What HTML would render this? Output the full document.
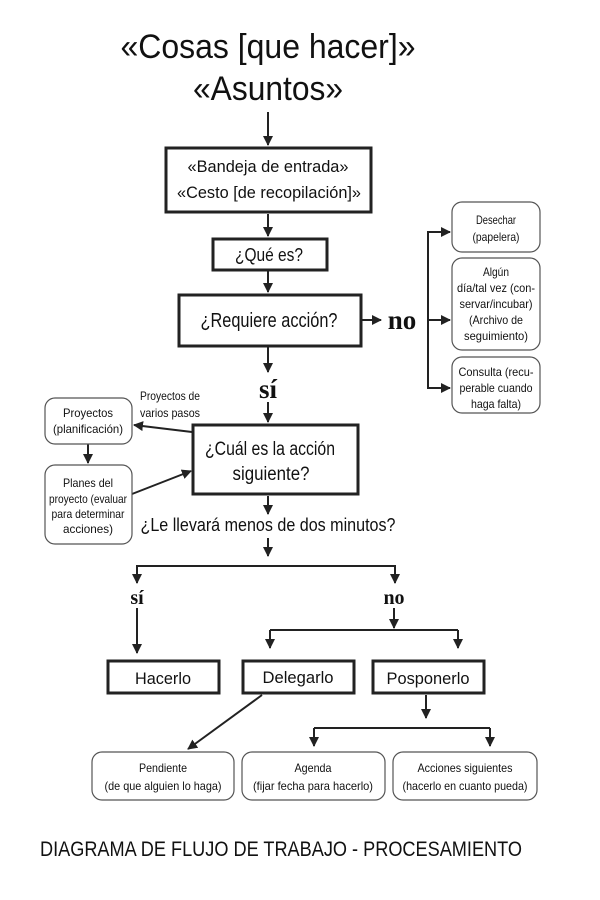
<!DOCTYPE html>
<html><head><meta charset="utf-8"><style>
html,body{margin:0;padding:0;background:#fff;}
svg{display:block}
.c{font-family:"Liberation Sans",sans-serif;text-anchor:middle;fill:#111}
.s{font-family:"Liberation Serif",serif;font-weight:bold;text-anchor:middle;fill:#111}
</style></head><body>
<svg width="600" height="900" viewBox="0 0 600 900" xmlns="http://www.w3.org/2000/svg">
<defs><marker id="a" markerWidth="10" markerHeight="10" refX="9" refY="5" orient="auto" markerUnits="userSpaceOnUse"><path d="M0,0 L10,5 L0,10 Z" fill="#222"/></marker></defs>
<g stroke="#222" stroke-width="2" fill="none">
<line x1="268" y1="112" x2="268" y2="145" marker-end="url(#a)"/>
<line x1="268" y1="214" x2="268" y2="236" marker-end="url(#a)"/>
<line x1="268" y1="271" x2="268" y2="292" marker-end="url(#a)"/>
<line x1="362" y1="320" x2="381" y2="320" marker-end="url(#a)"/>
<polyline points="450,232 428,232 428,388 450,388"/>
<line x1="428" y1="232" x2="450" y2="232" marker-end="url(#a)"/>
<line x1="428" y1="320" x2="450" y2="320" marker-end="url(#a)"/>
<line x1="428" y1="388" x2="450" y2="388" marker-end="url(#a)"/>
<line x1="268" y1="347" x2="268" y2="372" marker-end="url(#a)"/>
<line x1="268" y1="402" x2="268" y2="422" marker-end="url(#a)"/>
<line x1="192" y1="432" x2="134" y2="425" marker-end="url(#a)"/>
<line x1="132" y1="494" x2="191" y2="471" marker-end="url(#a)"/>
<line x1="88" y1="444" x2="88" y2="463" marker-end="url(#a)"/>
<line x1="268" y1="496" x2="268" y2="514" marker-end="url(#a)"/>
<line x1="268" y1="538" x2="268" y2="556" marker-end="url(#a)"/>
<polyline points="137,582 137,566 395,566 395,582"/>
<line x1="137" y1="566" x2="137" y2="583" marker-end="url(#a)"/>
<line x1="395" y1="566" x2="395" y2="583" marker-end="url(#a)"/>
<line x1="137" y1="608" x2="137" y2="653" marker-end="url(#a)"/>
<line x1="394" y1="608" x2="394" y2="628" marker-end="url(#a)"/>
<polyline points="270,630 458,630"/>
<line x1="270" y1="630" x2="270" y2="648" marker-end="url(#a)"/>
<line x1="458" y1="630" x2="458" y2="648" marker-end="url(#a)"/>
<line x1="426" y1="695" x2="426" y2="718" marker-end="url(#a)"/>
<polyline points="314,728 490,728"/>
<line x1="314" y1="728" x2="314" y2="746" marker-end="url(#a)"/>
<line x1="490" y1="728" x2="490" y2="746" marker-end="url(#a)"/>
<line x1="262" y1="695" x2="188" y2="749" marker-end="url(#a)"/>
</g>
<g stroke="#222" stroke-width="3" fill="#fff">
<rect x="166" y="148" width="205" height="64"/>
<rect x="213" y="239" width="114" height="31"/>
<rect x="179" y="295" width="182" height="51"/>
<rect x="193" y="425" width="165" height="69"/>
<rect x="108" y="661" width="111" height="32"/>
<rect x="243" y="661" width="111" height="32"/>
<rect x="373" y="661" width="111" height="32"/>
</g>
<g stroke="#555" stroke-width="1.2" fill="#fff">
<rect x="452" y="202" width="88" height="50" rx="10"/>
<rect x="452" y="258" width="88" height="92" rx="10"/>
<rect x="452" y="357" width="88" height="56" rx="10"/>
<rect x="45" y="398" width="87" height="46" rx="10"/>
<rect x="45" y="465" width="87" height="79" rx="10"/>
<rect x="92" y="752" width="142" height="48" rx="10"/>
<rect x="242" y="752" width="143" height="48" rx="10"/>
<rect x="393" y="752" width="144" height="48" rx="10"/>
</g>
<g lengthAdjust="spacingAndGlyphs">
<text class="c" x="268" y="58" font-size="34" textLength="295" lengthAdjust="spacingAndGlyphs">«Cosas [que hacer]»</text>
<text class="c" x="268" y="100" font-size="34" textLength="150" lengthAdjust="spacingAndGlyphs">«Asuntos»</text>
<text class="c" x="268" y="172" font-size="17" textLength="161" lengthAdjust="spacingAndGlyphs">«Bandeja de entrada»</text>
<text class="c" x="269" y="198" font-size="17" textLength="184" lengthAdjust="spacingAndGlyphs">«Cesto [de recopilación]»</text>
<text class="c" x="269" y="261" font-size="18" textLength="68" lengthAdjust="spacingAndGlyphs">¿Qué es?</text>
<text class="c" x="269" y="327" font-size="20" textLength="137" lengthAdjust="spacingAndGlyphs">¿Requiere acción?</text>
<text class="s" x="402" y="329" font-size="27">no</text>
<text class="s" x="268" y="398" font-size="27">sí</text>
<text class="c" x="270" y="455" font-size="19" textLength="130" lengthAdjust="spacingAndGlyphs">¿Cuál es la acción</text>
<text class="c" x="271" y="480" font-size="19" textLength="77" lengthAdjust="spacingAndGlyphs">siguiente?</text>
<text class="c" x="170" y="400" font-size="12" textLength="60" lengthAdjust="spacingAndGlyphs">Proyectos de</text>
<text class="c" x="170" y="417" font-size="12" textLength="60" lengthAdjust="spacingAndGlyphs">varios pasos</text>
<text class="c" x="88" y="417" font-size="12" textLength="50" lengthAdjust="spacingAndGlyphs">Proyectos</text>
<text class="c" x="88" y="433" font-size="12" textLength="70" lengthAdjust="spacingAndGlyphs">(planificación)</text>
<text class="c" x="88" y="487" font-size="12" textLength="50" lengthAdjust="spacingAndGlyphs">Planes del</text>
<text class="c" x="88" y="503" font-size="12" textLength="78" lengthAdjust="spacingAndGlyphs">proyecto (evaluar</text>
<text class="c" x="88" y="518" font-size="12" textLength="73" lengthAdjust="spacingAndGlyphs">para determinar</text>
<text class="c" x="88" y="533" font-size="12" textLength="50" lengthAdjust="spacingAndGlyphs">acciones)</text>
<text class="c" x="496" y="224" font-size="12" textLength="40" lengthAdjust="spacingAndGlyphs">Desechar</text>
<text class="c" x="496" y="241" font-size="12" textLength="47" lengthAdjust="spacingAndGlyphs">(papelera)</text>
<text class="c" x="496" y="276" font-size="12" textLength="26" lengthAdjust="spacingAndGlyphs">Algún</text>
<text class="c" x="496" y="292" font-size="12" textLength="78" lengthAdjust="spacingAndGlyphs">día/tal vez (con-</text>
<text class="c" x="496" y="308" font-size="12" textLength="73" lengthAdjust="spacingAndGlyphs">servar/incubar)</text>
<text class="c" x="496" y="324" font-size="12" textLength="54" lengthAdjust="spacingAndGlyphs">(Archivo de</text>
<text class="c" x="496" y="340" font-size="12" textLength="64" lengthAdjust="spacingAndGlyphs">seguimiento)</text>
<text class="c" x="496" y="376" font-size="12" textLength="75" lengthAdjust="spacingAndGlyphs">Consulta (recu-</text>
<text class="c" x="496" y="392" font-size="12" textLength="73" lengthAdjust="spacingAndGlyphs">perable cuando</text>
<text class="c" x="496" y="408" font-size="12" textLength="50" lengthAdjust="spacingAndGlyphs">haga falta)</text>
<text class="c" x="268" y="531" font-size="18" textLength="255" lengthAdjust="spacingAndGlyphs">¿Le llevará menos de dos minutos?</text>
<text class="s" x="137" y="604" font-size="20">sí</text>
<text class="s" x="394" y="604" font-size="20">no</text>
<text class="c" x="163" y="684" font-size="17" textLength="56" lengthAdjust="spacingAndGlyphs">Hacerlo</text>
<text class="c" x="298" y="683" font-size="17" textLength="71" lengthAdjust="spacingAndGlyphs">Delegarlo</text>
<text class="c" x="428" y="684" font-size="17" textLength="83" lengthAdjust="spacingAndGlyphs">Posponerlo</text>
<text class="c" x="163" y="772" font-size="12" textLength="48" lengthAdjust="spacingAndGlyphs">Pendiente</text>
<text class="c" x="163" y="790" font-size="12" textLength="117" lengthAdjust="spacingAndGlyphs">(de que alguien lo haga)</text>
<text class="c" x="313" y="772" font-size="12" textLength="37" lengthAdjust="spacingAndGlyphs">Agenda</text>
<text class="c" x="313" y="790" font-size="12" textLength="120" lengthAdjust="spacingAndGlyphs">(fijar fecha para hacerlo)</text>
<text class="c" x="465" y="772" font-size="12" textLength="95" lengthAdjust="spacingAndGlyphs">Acciones siguientes</text>
<text class="c" x="465" y="790" font-size="12" textLength="125" lengthAdjust="spacingAndGlyphs">(hacerlo en cuanto pueda)</text>
<text class="c" x="281" y="856" font-size="21" textLength="482" lengthAdjust="spacingAndGlyphs">DIAGRAMA DE FLUJO DE TRABAJO - PROCESAMIENTO</text>
</g>
</svg>
</body></html>
